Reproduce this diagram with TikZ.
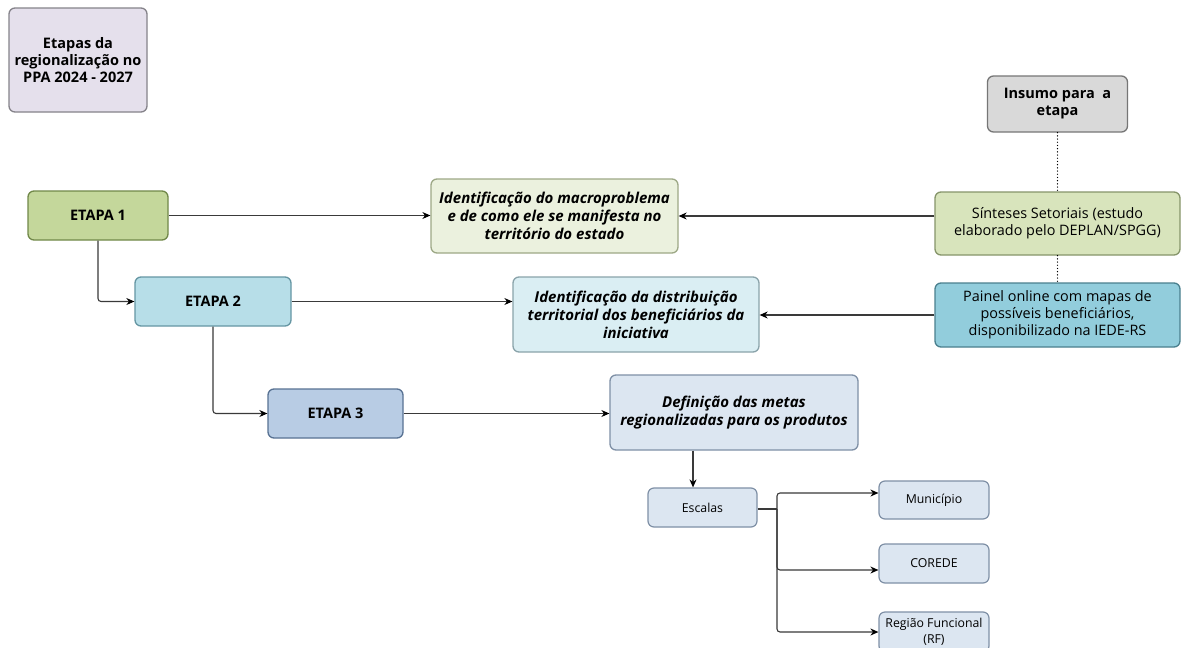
\documentclass[tikz,border=0pt]{standalone}
\usepackage{fontspec}
\setmainfont{Open Sans}
\usetikzlibrary{arrows.meta}

\definecolor{lineGray}{HTML}{3A3A3A}
\definecolor{titleFill}{HTML}{E5E0EC}
\definecolor{titleDraw}{HTML}{85838A}
\definecolor{grayFill}{HTML}{D9D9D9}
\definecolor{grayDraw}{HTML}{767676}
\definecolor{greenFill}{HTML}{C4D79B}
\definecolor{greenDraw}{HTML}{718849}
\definecolor{lgreenFill}{HTML}{D8E4BC}
\definecolor{lgreenDraw}{HTML}{86956A}
\definecolor{pgreenFill}{HTML}{EBF1DE}
\definecolor{pgreenDraw}{HTML}{9DA886}
\definecolor{tealFill}{HTML}{92CDDC}
\definecolor{tealDraw}{HTML}{4A808E}
\definecolor{cyanFill}{HTML}{B7DEE8}
\definecolor{cyanDraw}{HTML}{6596A3}
\definecolor{pcyanFill}{HTML}{DAEEF3}
\definecolor{pcyanDraw}{HTML}{8AA3AA}
\definecolor{blueFill}{HTML}{B8CCE4}
\definecolor{blueDraw}{HTML}{587293}
\definecolor{pblueFill}{HTML}{DCE6F1}
\definecolor{pblueDraw}{HTML}{7F90A6}

\tikzset{
  box/.style={draw, rounded corners=6pt, line width=1.3pt, align=center,
    inner sep=2pt, font=\fontsize{14.5}{17.5}\selectfont},
  stagebox/.style={box, font=\fontsize{14.5}{17}\selectfont\bfseries},
  taskbox/.style={box, font=\fontsize{15}{18}\selectfont\bfseries\itshape},
  inputbox/.style={box, font=\fontsize{14.4}{17}\selectfont},
  scalebox/.style={box, fill=pblueFill, draw=pblueDraw, line width=1.2pt,
    minimum width=110pt, font=\fontsize{12.3}{16}\selectfont},
  link/.style={draw=lineGray, line width=1.1pt,
    -{Stealth[length=8pt,width=7pt,black]}},
  plain/.style={draw=lineGray, line width=1.1pt},
  dots/.style={draw=black, line width=1.4pt, line cap=round,
    dash pattern=on 0pt off 3.2pt}
}

\begin{document}
\begin{tikzpicture}[x=1pt,y=-1pt]
\useasboundingbox[fill=white] (0,0) rectangle (1181,648);

% heading
\node[box, fill=titleFill, draw=titleDraw, minimum width=138pt, minimum height=104pt,
  font=\fontsize{14.5}{17}\selectfont\bfseries] (title) at (78,60)
  {Etapas da\\regionalização no\\PPA 2024 - 2027};

% inputs column
\node[box, fill=grayFill, draw=grayDraw, minimum width=140pt, minimum height=56pt,
  font=\fontsize{14.5}{17}\selectfont\bfseries] (insumo) at (1057.5,104)
  {Insumo para\ \ a\\etapa};
\node[inputbox, fill=lgreenFill, draw=lgreenDraw, minimum width=245pt, minimum height=63pt]
  (sint) at (1057.5,223.5) {Sínteses Setoriais (estudo\\elaborado pelo DEPLAN/SPGG)};
\node[inputbox, fill=tealFill, draw=tealDraw, minimum width=245pt, minimum height=64pt]
  (painel) at (1057.5,315) {Painel online com mapas de\\possíveis beneficiários,\\disponibilizado na IEDE-RS};

% stages
\node[stagebox, fill=greenFill, draw=greenDraw, minimum width=140pt, minimum height=49pt]
  (e1) at (98,215.5) {ETAPA 1};
\node[stagebox, fill=cyanFill, draw=cyanDraw, minimum width=156pt, minimum height=49pt]
  (e2) at (213,301.5) {ETAPA 2};
\node[stagebox, fill=blueFill, draw=blueDraw, minimum width=135pt, minimum height=49pt]
  (e3) at (335.5,413.5) {ETAPA 3};

% tasks
\node[taskbox, fill=pgreenFill, draw=pgreenDraw, minimum width=247pt, minimum height=74pt]
  (macro) at (554.5,216) {Identificação do macroproblema\\e de como ele se manifesta no\\território do estado};
\node[taskbox, fill=pcyanFill, draw=pcyanDraw, minimum width=246pt, minimum height=75pt]
  (dist) at (636,314.5) {Identificação da distribuição\\territorial dos beneficiários da\\iniciativa};
\node[taskbox, fill=pblueFill, draw=pblueDraw, minimum width=248pt, minimum height=75pt]
  (def) at (734,412.5) {Definição das metas\\regionalizadas para os produtos};

% scales
\node[scalebox, minimum width=109pt, minimum height=39pt] (esc) at (702.5,507.5) {Escalas};
\node[scalebox, minimum height=38pt] (mun) at (934,500) {Município};
\node[scalebox, minimum height=39pt] (cor) at (934,563.5) {COREDE};
\node[scalebox, minimum height=40pt] (rf) at (934,632) {Região Funcional\\(RF)};

% dotted links between the inputs
\draw[dots] (insumo.south) -- (sint.north);
\draw[dots] (sint.south) -- (painel.north);

% stage sequence
\draw[link, rounded corners=3pt] (e1.south) |- (e2.west);
\draw[link, rounded corners=3pt] (e2.south) |- (e3.west);

% stage to task
\draw[link] (e1.east) -- (macro.west |- e1.east);
\draw[link] (e2.east) -- (dist.west |- e2.east);
\draw[link] (e3.east) -- (def.west |- e3.east);

% inputs to tasks
\draw[link] (sint.west |- macro.east) -- (macro.east);
\draw[link] (painel.west) -- (dist.east |- painel.west);

% task to scales
\coordinate (defout) at (693,450);
\draw[link] (def.south -| defout) -- (esc.north -| defout);

% branching to the scales
\coordinate (split) at (777,509);
\draw[plain] (esc.east |- split) -- (split);
\draw[link, rounded corners=3pt] (split) |- (mun.west |- 0,493);
\draw[link, rounded corners=3pt] (split) |- (cor.west |- 0,570);
\draw[link, rounded corners=3pt] (split) |- (rf.west);
\end{tikzpicture}
\end{document}
